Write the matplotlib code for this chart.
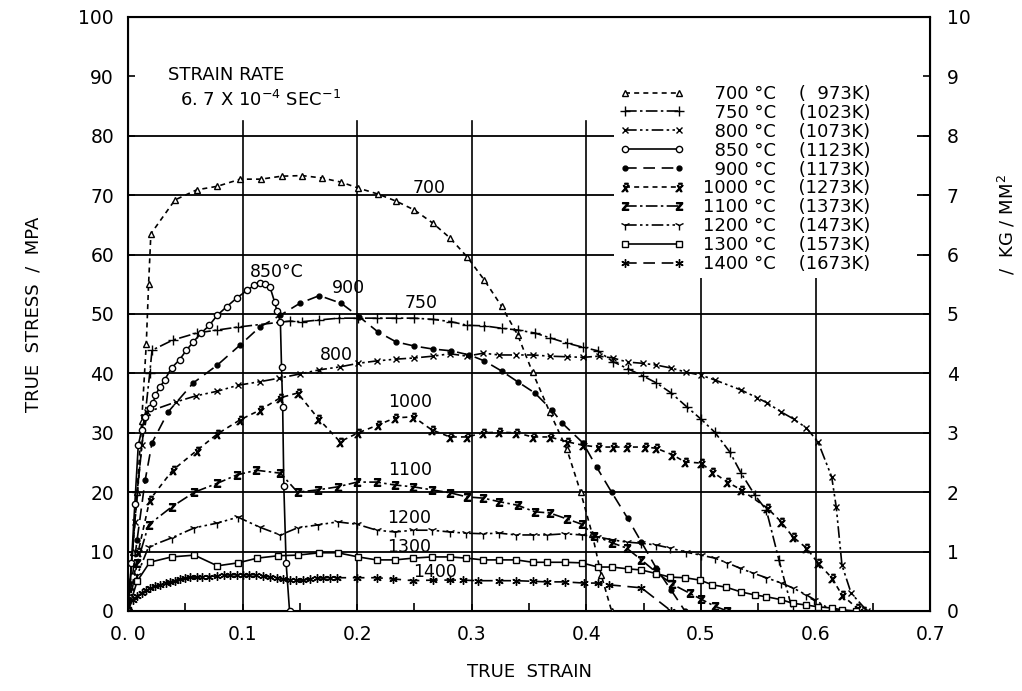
import matplotlib
matplotlib.use("Agg")
import matplotlib.pyplot as plt

plt.rcParams['font.family'] = ['DejaVu Sans']

# true strain / true stress (MPa)
strain_700 = [0, 0.004, 0.008, 0.012, 0.016, 0.018, 0.020, 0.041, 0.060, 0.078, 0.098, 0.116, 0.134, 0.152, 0.169,
              0.186, 0.201, 0.218, 0.234, 0.250, 0.266, 0.281, 0.296, 0.311, 0.326, 0.340, 0.353, 0.368, 0.383,
              0.395, 0.405, 0.413, 0.422]
stress_700 = [0, 10, 20, 32, 45, 55, 63.5, 69.2, 70.9, 71.5, 72.7, 72.7, 73.2, 73.3, 72.9,
              72.2, 71.2, 70.2, 69.0, 67.5, 65.3, 62.8, 59.6, 55.7, 51.3, 46.5, 40.2, 33.5, 27.2,
              20.0, 13.0, 6.0, 0]

strain_750 = [0, 0.008, 0.015, 0.019, 0.021, 0.039, 0.060, 0.078, 0.096, 0.141, 0.152, 0.167, 0.184, 0.201,
              0.217, 0.234, 0.250, 0.266, 0.282, 0.296, 0.311, 0.326, 0.340, 0.355, 0.368, 0.383, 0.397,
              0.410, 0.423, 0.436, 0.449, 0.461, 0.474, 0.488, 0.500, 0.512, 0.525, 0.535, 0.547, 0.557,
              0.568, 0.580]
stress_750 = [0, 20, 33, 40, 43.9, 45.6, 46.8, 47.3, 47.8, 48.8, 48.7, 49.0, 49.3, 49.3,
              49.3, 49.3, 49.3, 49.1, 48.7, 48.1, 48.0, 47.6, 47.3, 46.8, 46.0, 45.1, 44.4,
              43.8, 42.0, 40.8, 39.6, 38.4, 36.7, 34.3, 32.3, 30.1, 26.8, 23.2, 19.5, 17.0,
              8.6, 0]

strain_800 = [0, 0.006, 0.012, 0.017, 0.042, 0.059, 0.078, 0.096, 0.115, 0.132, 0.150, 0.167, 0.185, 0.201,
              0.217, 0.234, 0.250, 0.266, 0.281, 0.296, 0.310, 0.324, 0.339, 0.353, 0.368, 0.383, 0.397,
              0.411, 0.423, 0.436, 0.449, 0.461, 0.474, 0.487, 0.500, 0.512, 0.535, 0.549, 0.558, 0.570,
              0.581, 0.592, 0.602, 0.614, 0.618, 0.623, 0.631, 0.645]
stress_800 = [0, 15, 28, 33.5, 35.2, 36.2, 37.0, 38.0, 38.6, 39.2, 39.9, 40.6, 41.1, 41.7,
              42.1, 42.4, 42.6, 42.9, 43.3, 42.9, 43.4, 43.1, 43.1, 43.1, 42.9, 42.8, 42.7,
              42.9, 42.6, 41.9, 41.7, 41.4, 40.9, 40.2, 39.7, 38.9, 37.2, 35.9, 35.0, 33.5,
              32.3, 30.8, 28.5, 22.6, 17.5, 7.7, 3.0, 0]

strain_850 = [0, 0.003, 0.006, 0.009, 0.012, 0.015, 0.019, 0.022, 0.024, 0.028, 0.032, 0.038, 0.045, 0.051,
              0.057, 0.064, 0.071, 0.078, 0.086, 0.095, 0.104, 0.110, 0.115, 0.120, 0.124, 0.128, 0.130,
              0.133, 0.134, 0.135, 0.136, 0.138, 0.141]
stress_850 = [0, 8, 18, 27.9, 30.5, 32.7, 34.2, 35.0, 36.4, 37.7, 38.9, 40.9, 42.3, 43.9,
              45.3, 46.8, 48.1, 49.8, 51.2, 52.7, 54.0, 54.8, 55.2, 55.0, 54.5, 52.0, 50.5,
              48.7, 41.0, 34.3, 21.0, 8.1, 0]

strain_900 = [0, 0.008, 0.015, 0.021, 0.035, 0.057, 0.078, 0.098, 0.115, 0.133, 0.150, 0.167, 0.186,
              0.202, 0.218, 0.234, 0.250, 0.266, 0.282, 0.298, 0.311, 0.326, 0.340, 0.355, 0.370, 0.379,
              0.397, 0.409, 0.422, 0.436, 0.448, 0.461, 0.474, 0.486]
stress_900 = [0, 12, 22, 28.3, 33.5, 38.4, 41.4, 44.8, 47.8, 49.8, 51.8, 53.1, 51.8,
              49.5, 47.0, 45.3, 44.6, 44.1, 43.8, 43.1, 42.1, 40.4, 38.6, 36.7, 33.8, 31.6,
              28.3, 24.2, 20.0, 15.6, 11.6, 7.2, 3.5, 0]

strain_1000 = [0, 0.009, 0.019, 0.039, 0.060, 0.078, 0.098, 0.115, 0.133, 0.148, 0.166, 0.185, 0.201,
               0.218, 0.233, 0.249, 0.265, 0.281, 0.296, 0.310, 0.324, 0.339, 0.353, 0.368, 0.383, 0.397,
               0.410, 0.423, 0.435, 0.451, 0.461, 0.475, 0.486, 0.500, 0.510, 0.523, 0.535, 0.558, 0.570,
               0.580, 0.592, 0.602, 0.614, 0.623, 0.636, 0.641]
stress_1000 = [0, 10, 18.7, 23.7, 27.0, 29.8, 32.2, 33.8, 35.9, 36.7, 32.4, 28.5, 30.0,
               31.3, 32.5, 32.7, 30.5, 29.3, 29.3, 30.0, 30.1, 30.0, 29.3, 29.3, 28.5, 27.9,
               27.6, 27.6, 27.6, 27.6, 27.4, 26.3, 25.1, 24.9, 23.4, 21.7, 20.4, 17.3, 15.0,
               12.5, 10.6, 8.1, 5.6, 2.7, 0.5, 0]

strain_1100 = [0, 0.008, 0.018, 0.038, 0.058, 0.078, 0.095, 0.112, 0.133, 0.148, 0.166, 0.183, 0.200,
               0.217, 0.233, 0.249, 0.265, 0.281, 0.296, 0.310, 0.324, 0.340, 0.355, 0.368, 0.383, 0.396,
               0.407, 0.422, 0.435, 0.448, 0.461, 0.475, 0.490, 0.500, 0.512, 0.523]
stress_1100 = [0, 8, 14.5, 17.5, 20.0, 21.5, 22.9, 23.7, 23.2, 20.0, 20.4, 20.9, 21.7,
               21.7, 21.2, 20.9, 20.4, 19.9, 19.2, 19.0, 18.4, 17.8, 16.7, 16.5, 15.5, 14.6,
               12.7, 11.5, 10.6, 8.6, 6.5, 4.5, 3.0, 2.0, 0.8, 0]

strain_1200 = [0, 0.008, 0.018, 0.038, 0.058, 0.078, 0.096, 0.115, 0.133, 0.148, 0.166, 0.183, 0.200,
               0.217, 0.233, 0.249, 0.265, 0.281, 0.295, 0.310, 0.324, 0.339, 0.353, 0.366, 0.381, 0.396,
               0.409, 0.422, 0.435, 0.448, 0.461, 0.473, 0.487, 0.500, 0.512, 0.523, 0.534, 0.545, 0.557,
               0.570, 0.580, 0.592, 0.599, 0.615]
stress_1200 = [0, 6, 10.8, 12.3, 14.0, 14.8, 15.8, 14.1, 12.8, 14.0, 14.5, 15.0, 14.6,
               13.6, 13.3, 13.6, 13.6, 13.3, 13.1, 13.0, 13.1, 12.8, 12.8, 12.8, 13.0, 12.8,
               12.5, 12.0, 11.6, 11.4, 11.1, 10.6, 9.9, 9.4, 8.9, 8.1, 7.2, 6.4, 5.6,
               4.7, 3.9, 2.7, 1.9, 0]

strain_1300 = [0, 0.008, 0.019, 0.038, 0.058, 0.078, 0.096, 0.113, 0.131, 0.148, 0.167, 0.183, 0.201,
               0.217, 0.233, 0.249, 0.265, 0.281, 0.295, 0.310, 0.324, 0.339, 0.353, 0.366, 0.381, 0.396,
               0.410, 0.422, 0.436, 0.448, 0.461, 0.473, 0.486, 0.499, 0.510, 0.522, 0.535, 0.547, 0.557,
               0.570, 0.580, 0.592, 0.602, 0.614, 0.623, 0.635]
stress_1300 = [0, 5, 8.2, 9.1, 9.4, 7.6, 8.1, 8.9, 9.3, 9.4, 9.8, 9.8, 9.1,
               8.6, 8.6, 8.9, 9.1, 9.1, 8.9, 8.6, 8.6, 8.6, 8.2, 8.2, 8.2, 8.1,
               7.4, 7.4, 7.1, 6.9, 6.3, 5.7, 5.6, 5.2, 4.4, 4.0, 3.2, 2.7, 2.4,
               1.9, 1.3, 1.0, 0.7, 0.5, 0.2, 0]

strain_1400 = [0, 0.004, 0.008, 0.012, 0.016, 0.019, 0.024, 0.028, 0.033, 0.037, 0.041, 0.045, 0.050, 0.054,
               0.060, 0.065, 0.071, 0.078, 0.084, 0.089, 0.095, 0.100, 0.106, 0.112, 0.118, 0.124, 0.130,
               0.135, 0.141, 0.147, 0.153, 0.159, 0.165, 0.170, 0.176, 0.182, 0.200, 0.217, 0.231, 0.249,
               0.266, 0.281, 0.292, 0.305, 0.324, 0.339, 0.353, 0.366, 0.381, 0.398, 0.410, 0.420, 0.448,
               0.474]
stress_1400 = [0, 1.9, 2.5, 3.0, 3.5, 3.9, 4.2, 4.4, 4.7, 4.9, 5.1, 5.4, 5.5, 5.7,
               5.7, 5.7, 5.8, 5.9, 6.0, 6.1, 6.1, 6.1, 6.1, 6.1, 5.9, 5.7, 5.5,
               5.4, 5.3, 5.2, 5.2, 5.4, 5.5, 5.6, 5.6, 5.6, 5.6, 5.6, 5.4, 5.1,
               5.2, 5.2, 5.2, 5.1, 5.1, 5.1, 5.0, 4.9, 4.9, 4.7, 4.7, 4.4, 3.9,
               0]

temps_c = ['700', '750', '800', '850', '900', '1000', '1100', '1200', '1300', '1400']
temps_k = ['973', '1023', '1073', '1123', '1173', '1273', '1373', '1473', '1573', '1673']
strains = [strain_700, strain_750, strain_800, strain_850, strain_900,
           strain_1000, strain_1100, strain_1200, strain_1300, strain_1400]
stresses = [stress_700, stress_750, stress_800, stress_850, stress_900,
            stress_1000, stress_1100, stress_1200, stress_1300, stress_1400]

# line style, marker, marker size, filled
styles = [
    ((0, (3, 2.5)), '^', 5, False),
    ((0, (7, 2, 1.5, 2)), '+', 7, False),
    ((0, (7, 2, 1.5, 2, 1.5, 2)), 'x', 5, False),
    ('-', 'o', 4.5, False),
    ((0, (7, 4)), 'o', 3.5, True),
    ((0, (3, 2.5)), '$\\bar{x}$', 6, True),
    ((0, (7, 2, 1.5, 2)), '$\\mathrm{z}$', 5.5, True),
    ((0, (7, 2, 1.5, 2, 1.5, 2)), '1', 7, False),
    ('-', 's', 4, False),
    ((0, (7, 4)), (6, 2, 0), 6, False),
]

fig = plt.figure(figsize=(10.22, 6.91), dpi=100)
ax = fig.add_axes([0.1252, 0.1158, 0.785, 0.8596])

# graph-paper grid
for yv in range(10, 90, 10):
    ax.axhline(yv, color='k', lw=1.3, zorder=1)
for xv in [0.1, 0.2, 0.3, 0.4, 0.5, 0.6]:
    ax.axvline(xv, ymax=0.825, color='k', lw=1.2, zorder=1)

handles = []
for tc, tk, xs, ys, (ls, mk, ms, filled) in zip(temps_c, temps_k, strains, stresses, styles):
    pad = '\u2007' * (4 - len(tc))
    padk = '\u2007' * (4 - len(tk))
    line, = ax.plot(xs, ys, color='k', lw=1.2, ls=ls, marker=mk, ms=ms,
                    mfc='k' if filled else 'white', mec='k', mew=1.0, zorder=3,
                    label=f'{pad}{tc} °C    ({padk}{tk}K)')
    handles.append(line)

ax.set_xlim(0, 0.7)
ax.set_ylim(0, 100)
ax.set_xticks([0, 0.1, 0.2, 0.3, 0.4, 0.5, 0.6, 0.7])
ax.set_xticklabels(['0. 0', '0.1', '0.2', '0.3', '0.4', '0.5', '0.6', '0.7'])
ax.set_xticks([0.05, 0.15, 0.25, 0.35, 0.45, 0.55, 0.65], minor=True)
ax.set_yticks(range(0, 101, 10))
ax.tick_params(axis='both', which='major', direction='in', length=5, width=1.2,
               labelsize=13.5, pad=10)
ax.tick_params(axis='x', which='minor', direction='in', length=6, width=1.2)
for sp in ax.spines.values():
    sp.set_linewidth(1.5)

ax.set_xlabel('TRUE  STRAIN', fontsize=13, labelpad=14)
ax.set_ylabel('TRUE  STRESS  /  MPA', fontsize=13, labelpad=26)

ax2 = ax.twinx()
ax2.set_ylim(0, 10)
ax2.set_yticks(range(0, 11))
ax2.tick_params(axis='y', direction='in', length=5, width=1.2, labelsize=13.5, pad=12)
ax2.set_ylabel('/  KG / MM$^2$', fontsize=13)
ax2.yaxis.set_label_coords(1.083, 0.65)

leg = ax.legend(handles=handles, loc='upper left', bbox_to_anchor=(0.595, 0.55, 0.40, 0.36),
                mode='expand', fontsize=13, numpoints=2, handlelength=3.6, handletextpad=1.0,
                labelspacing=0.05, borderpad=0.3, frameon=True, fancybox=False,
                framealpha=1.0, edgecolor='none', facecolor='white')
leg.set_zorder(5)

# text annotations
ax.text(0.035, 90.2, 'STRAIN RATE', fontsize=13, ha='left', va='center')
ax.text(0.045, 86.0, '6. 7 X 10$^{-4}$ SEC$^{-1}$', fontsize=13, ha='left', va='center')

curve_labels = ['700', '750', '800', '850°C', '900', '1000', '1100', '1200', '1300', '1400']
label_x = [0.263, 0.256, 0.182, 0.130, 0.192, 0.246, 0.246, 0.245, 0.245, 0.268]
label_y = [71.2, 51.8, 43.1, 57.0, 54.4, 35.2, 23.7, 15.7, 10.8, 6.6]
for t, lx, ly in zip(curve_labels, label_x, label_y):
    ax.text(lx, ly, t, fontsize=12.5, ha='center', va='center', zorder=4)

fig.savefig('out.png', dpi=100)
